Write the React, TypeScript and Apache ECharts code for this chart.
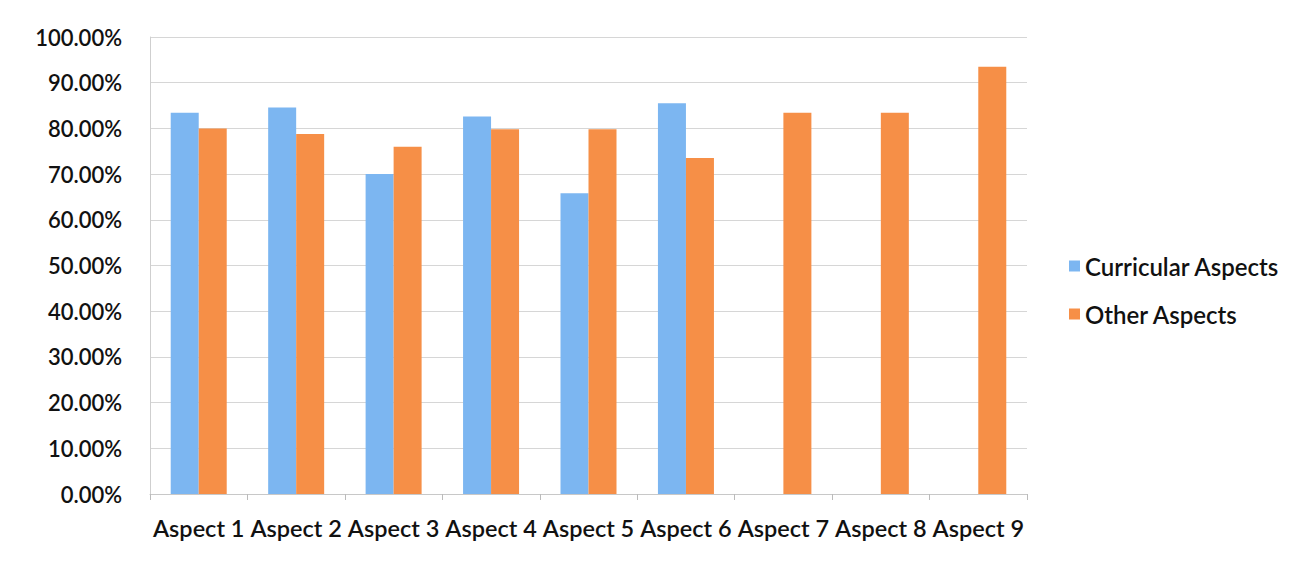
import React, { useEffect, useRef } from "react";
import * as echarts from "echarts";

const categories = ["Aspect 1", "Aspect 2", "Aspect 3", "Aspect 4", "Aspect 5", "Aspect 6", "Aspect 7", "Aspect 8", "Aspect 9"];
const curricular = [0.834, 0.846, 0.70, 0.826, 0.658, 0.855, null, null, null];
const other = [0.80, 0.788, 0.76, 0.798, 0.798, 0.735, 0.834, 0.834, 0.935];
const seriesNames = ["Curricular Aspects", "Other Aspects"];

const FONT = "Lato, 'Noto Sans', sans-serif";

export default function App() {
  const ref = useRef<HTMLDivElement>(null);
  useEffect(() => {
    if (!ref.current) return;
    const chart = echarts.init(ref.current, undefined, { renderer: "svg" });
    chart.setOption({
      animation: false,
      backgroundColor: "#ffffff",
      textStyle: { fontFamily: FONT },
      grid: { left: 150, right: 284, top: 37, bottom: 68, containLabel: false },
      legend: {
        orient: "vertical",
        left: 1064,
        top: 249,
        itemWidth: 11,
        itemHeight: 11,
        itemGap: 24,
        icon: "rect",
        textStyle: { fontSize: 24, color: "#111", fontFamily: FONT, fontWeight: 600 },
        data: seriesNames,
      },
      xAxis: {
        type: "category",
        data: categories,
        axisLine: { show: true, lineStyle: { color: "#c8c8c8" } },
        axisTick: { show: true, length: 6, lineStyle: { color: "#bbbbbb" } },
        axisLabel: { fontSize: 23.5, color: "#111", margin: 22, fontFamily: FONT, fontWeight: 600, interval: 0 },
      },
      yAxis: {
        type: "value",
        min: 0,
        max: 1,
        interval: 0.1,
        axisLine: { show: true, lineStyle: { color: "#cfcfcf" } },
        axisTick: { show: false },
        splitLine: { lineStyle: { color: "#d6d6d6", width: 1 } },
        axisLabel: {
          fontSize: 22,
          color: "#111",
          margin: 28,
          fontFamily: FONT,
          fontWeight: 600,
          formatter: (v: number) => (v * 100).toFixed(2) + "%",
        },
      },
      series: [
        {
          name: seriesNames[0],
          type: "bar",
          data: curricular,
          barWidth: 28,
          barGap: "0%",
          itemStyle: { color: "#7cb6f1" },
        },
        {
          name: seriesNames[1],
          type: "bar",
          data: other,
          barWidth: 28,
          itemStyle: { color: "#f68f47" },
        },
      ],
    });
    return () => chart.dispose();
  }, []);
  return (
    <div
      ref={ref}
      style={{ position: "fixed", left: 0, top: 0, width: 1311, height: 562, background: "#fff" }}
    />
  );
}
